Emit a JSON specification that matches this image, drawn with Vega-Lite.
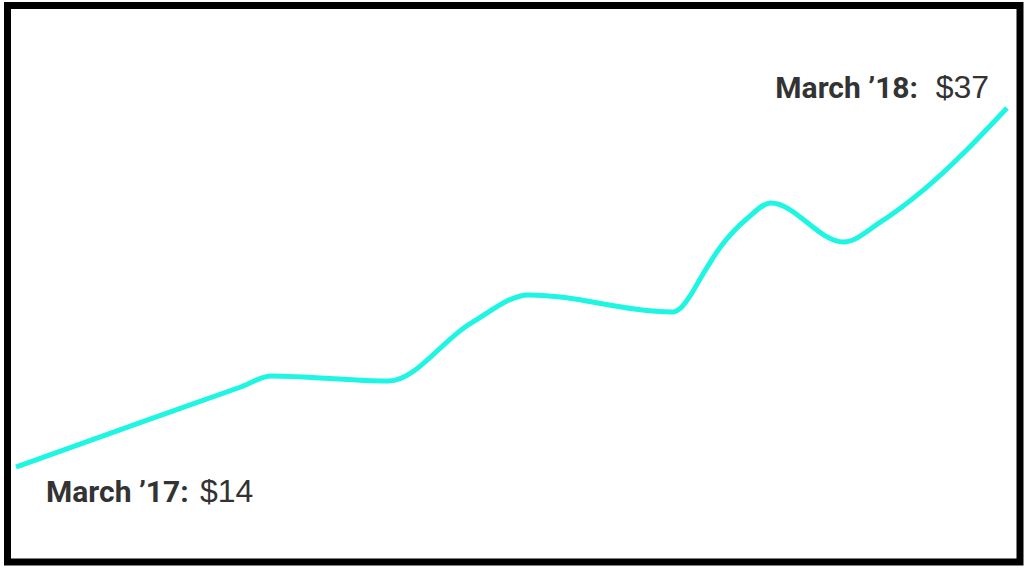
{
  "$schema": "https://vega.github.io/schema/vega-lite/v6.json",
  "width": 1024,
  "height": 568,
  "autosize": {"type": "fit", "contains": "padding"},
  "padding": {"left": 5.5, "top": 5.5, "right": 4, "bottom": 6},
  "background": "white",
  "config": {"view": {"stroke": "black", "strokeWidth": 7}},
  "data": {
    "values": [
      {"month": 0, "price": 14.0, "label": "March ’17:"},
      {"month": 1.52, "price": 16.87},
      {"month": 2.73, "price": 19.14},
      {"month": 3.09, "price": 19.83},
      {"month": 4.51, "price": 19.51},
      {"month": 5.51, "price": 23.22},
      {"month": 6.21, "price": 25.02},
      {"month": 7.95, "price": 23.93},
      {"month": 8.05, "price": 24.19},
      {"month": 8.17, "price": 25.02},
      {"month": 8.29, "price": 26.11},
      {"month": 8.53, "price": 28.09},
      {"month": 8.86, "price": 29.95},
      {"month": 9.14, "price": 30.91},
      {"month": 10.02, "price": 28.41},
      {"month": 10.47, "price": 29.7},
      {"month": 10.99, "price": 31.75},
      {"month": 12, "price": 37.0, "label": "March ’18:"}
    ]
  },
  "encoding": {
    "x": {"field": "month", "type": "quantitative", "axis": null, "scale": {"domain": [-0.1027, 12.157], "nice": false, "zero": false}},
    "y": {"field": "price", "type": "quantitative", "axis": null, "scale": {"domain": [7.914, 43.56], "nice": false, "zero": false}}
  },
  "layer": [
    {"mark": {"type": "line", "interpolate": "monotone", "color": "#1EF5E2", "strokeWidth": 5}},
    {
      "transform": [{"filter": "datum.month == 0"}],
      "mark": {"type": "text", "align": "left", "baseline": "alphabetic", "dx": 30, "dy": 35, "font": "Roboto", "fontWeight": "bold", "fontSize": 30, "color": "#333333"},
      "encoding": {"text": {"field": "label"}}
    },
    {
      "transform": [{"filter": "datum.month == 0"}],
      "mark": {"type": "text", "align": "left", "baseline": "alphabetic", "dx": 184, "dy": 35, "font": "Liberation Sans", "fontSize": 32, "color": "#333333"},
      "encoding": {"text": {"field": "price", "format": "$.0f"}}
    },
    {
      "transform": [{"filter": "datum.month == 12"}],
      "mark": {"type": "text", "align": "right", "baseline": "alphabetic", "dx": -89, "dy": -10, "font": "Roboto", "fontWeight": "bold", "fontSize": 30, "color": "#333333"},
      "encoding": {"text": {"field": "label"}}
    },
    {
      "transform": [{"filter": "datum.month == 12"}],
      "mark": {"type": "text", "align": "right", "baseline": "alphabetic", "dx": -18, "dy": -10, "font": "Liberation Sans", "fontSize": 32, "color": "#333333"},
      "encoding": {"text": {"field": "price", "format": "$.0f"}}
    }
  ]
}
